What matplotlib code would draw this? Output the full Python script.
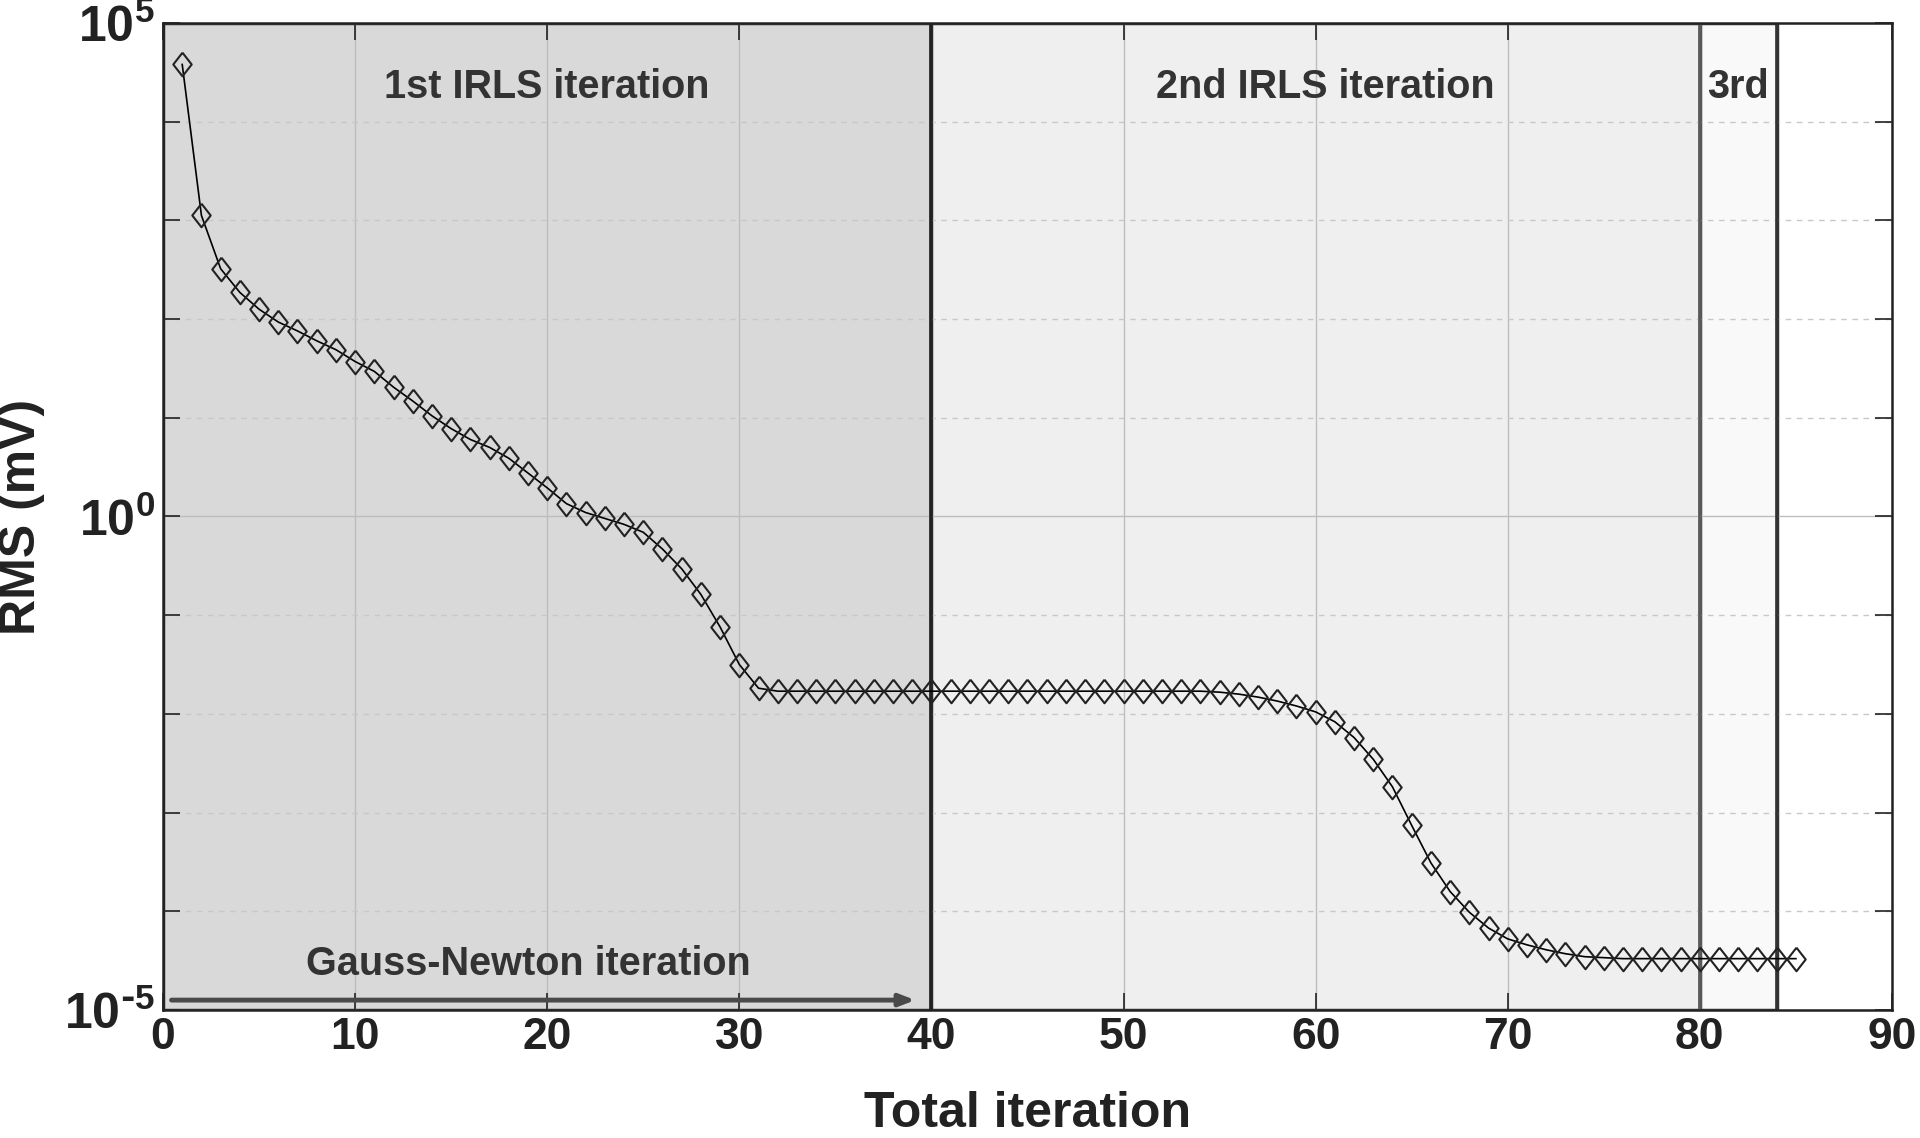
import numpy as np
import matplotlib
matplotlib.use("Agg")
import matplotlib.pyplot as plt
from matplotlib.ticker import FixedLocator, FixedFormatter, NullFormatter

plt.rcParams['font.family'] = ['Liberation Sans', 'DejaVu Sans']
plt.rcParams['font.weight'] = 'bold'
plt.rcParams['mathtext.default'] = 'regular'

# data (log10 of RMS in mV), iterations 1..85
iterations = np.arange(1, 86)
rms_log10 = [4.58, 3.05, 2.51, 2.27, 2.10, 1.97, 1.88, 1.78, 1.69, 1.57,
             1.47, 1.31, 1.17, 1.02, 0.89, 0.78, 0.70, 0.59, 0.44, 0.29,
             0.13, 0.04, -0.02, -0.08, -0.16, -0.33, -0.53, -0.79, -1.12, -1.50,
             -1.74, -1.77, -1.77, -1.77, -1.77, -1.77, -1.77, -1.77, -1.77, -1.77,
             -1.77, -1.77, -1.77, -1.77, -1.77, -1.77, -1.77, -1.77, -1.77, -1.77,
             -1.77, -1.77, -1.77, -1.77, -1.78, -1.80, -1.83, -1.87, -1.92, -1.98,
             -2.08, -2.24, -2.46, -2.74, -3.13, -3.51, -3.80, -4.01, -4.17, -4.28,
             -4.34, -4.39, -4.43, -4.46, -4.47, -4.48, -4.48, -4.48, -4.48, -4.48,
             -4.48, -4.48, -4.48, -4.48, -4.48]
rms = 10.0 ** np.array(rms_log10)

# IRLS phases (start, end, label, fill)
phase_edges = [0, 40, 80, 84]
phase_labels = ['1st IRLS iteration', '2nd IRLS iteration', '3rd']
phase_colors = ['#d9d9d9', '#efefef', '#f9f9f9']
phase_line_colors = ['#222222', '#222222', '#5a5a5a', '#333333']

xticks = list(range(0, 100, 10))
ymajor = [1e-5, 1e0, 1e5]
ymajor_labels = [r'$10^{\text{-}5}$', r'$10^{0}$', r'$10^{5}$']
yminor = [10.0 ** k for k in range(-5, 6)]

# MATLAB-like taller diamond
diamond = [(0, 1), (0.78, 0), (0, -1), (-0.78, 0), (0, 1)]

fig = plt.figure(figsize=(19.2, 11.38), dpi=100)
ax = fig.add_axes([0.0849, 0.1125, 0.9005, 0.8673])

for i in range(3):
    ax.axvspan(phase_edges[i], phase_edges[i + 1], ymin=0, ymax=1,
               facecolor=phase_colors[i], edgecolor='#333333', lw=2.5, zorder=0.8)
for xe, c in zip(phase_edges, phase_line_colors):
    ax.axvline(xe, color=c, lw=2.6, zorder=2.5)

ax.plot(iterations, rms, color='black', lw=1.2, marker=diamond, ms=17,
        mfc='none', mec='#222222', mew=1.5, zorder=3)

ax.set_xlim(0, 90)
ax.set_yscale('log')
ax.set_ylim(1e-5, 1e5)
ax.set_xticks(xticks)
ax.yaxis.set_major_locator(FixedLocator(ymajor))
ax.yaxis.set_major_formatter(FixedFormatter(ymajor_labels))
ax.yaxis.set_minor_locator(FixedLocator(yminor))
ax.yaxis.set_minor_formatter(NullFormatter())

ax.grid(True, axis='x', which='major', color='#bdbdbd', lw=1.0, ls='-')
ax.grid(True, axis='y', which='major', color='#bdbdbd', lw=1.0, ls='-')
ax.grid(True, axis='y', which='minor', color='#c8c8c8', lw=1.0, ls=(0, (4, 4)))

ax.tick_params(axis='both', which='both', direction='in', top=True, right=True,
               width=1.2, color='#222222')
ax.tick_params(axis='x', which='major', length=12, labelsize=32, pad=5)
ax.tick_params(axis='y', which='both', length=12, labelsize=36, pad=6)
for lab in ax.get_xticklabels() + ax.get_yticklabels():
    lab.set_fontweight('bold')
    lab.set_color('#222222')
for sp in ax.spines.values():
    sp.set_linewidth(1.8)
    sp.set_color('#222222')

ax.set_xlabel('Total iteration', fontsize=36, fontweight='bold', color='#222222', labelpad=24)
ax.set_ylabel('RMS (mV)', fontsize=36, fontweight='bold', color='#222222')
ax.yaxis.set_label_coords(-0.068, 0.5)

ax.text(20, 10 ** 4.35, phase_labels[0], fontsize=28.5, fontweight='bold',
        color='#333333', ha='center', va='center', zorder=4)
ax.text(60.5, 10 ** 4.35, phase_labels[1], fontsize=28.5, fontweight='bold',
        color='#333333', ha='center', va='center', zorder=4)
ax.text(80.4, 10 ** 4.35, phase_labels[2], fontsize=28.5, fontweight='bold',
        color='#333333', ha='left', va='center', zorder=4)

ax.text(19, 10 ** -4.53, 'Gauss-Newton iteration', fontsize=28.5, fontweight='bold',
        color='#333333', ha='center', va='center', zorder=4)
ax.annotate('', xy=(39.3, 10 ** -4.9), xytext=(0.3, 10 ** -4.9),
            arrowprops=dict(arrowstyle='-|>,head_length=0.9,head_width=0.35',
                            color='#4a4a4a', lw=3.5), zorder=4)

fig.savefig('out.png', dpi=100)
